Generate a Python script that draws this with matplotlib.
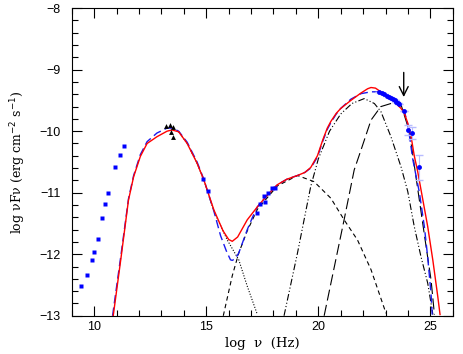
import numpy as np
import matplotlib
matplotlib.use("Agg")
import matplotlib.pyplot as plt
from matplotlib.ticker import MultipleLocator

# radio / optical / X-ray data (blue squares)
radio_x = [9.40, 9.67, 9.91, 10.01, 10.15, 10.36, 10.49, 10.61, 10.92, 11.13, 11.35]
radio_y = [-12.52, -12.33, -12.09, -11.96, -11.75, -11.41, -11.19, -11.00, -10.59, -10.39, -10.24]
opt_x = [14.85, 15.07]
opt_y = [-10.77, -10.98]
xray_x = [17.25, 17.39, 17.62, 17.59, 17.77, 17.95, 18.07]
xray_y = [-11.33, -11.18, -11.15, -11.06, -11.00, -10.93, -10.93]

# IR triangles
ir_x = [13.20, 13.40, 13.52, 13.44, 13.52]
ir_y = [-9.92, -9.90, -9.93, -10.02, -10.10]

# gamma-ray points
gam_x = [22.72, 22.83, 22.94, 23.05, 23.17, 23.25, 23.32, 23.40, 23.47, 23.55, 23.61, 23.84, 23.99, 24.17, 24.47]
gam_y = [-9.36, -9.38, -9.40, -9.42, -9.44, -9.46, -9.48, -9.50, -9.52, -9.54, -9.56, -9.67, -9.98, -10.03, -10.59]
gam_err = [0, 0, 0, 0, 0, 0, 0, 0, 0, 0, 0, 0, 0.08, 0.10, 0.20]

# total model (red)
red_x = [10.85, 11.2, 11.53, 11.76, 12.06, 12.36, 12.8, 13.25, 13.47, 13.77, 14.15, 14.59, 14.89, 15.34,
         15.75, 16.0, 16.16, 16.4, 16.83, 17.28, 17.7, 18.17, 18.6, 19.07, 19.4, 19.66, 19.96, 20.2, 20.4,
         20.56, 20.8, 21.0, 21.45, 21.9, 22.2, 22.35, 22.55, 22.79, 23.24, 23.69, 23.84, 23.99, 24.14, 24.28,
         24.43, 24.58, 24.88, 25.11, 25.33, 25.43]
red_y = [-13.0, -12.05, -11.12, -10.74, -10.41, -10.20, -10.09, -10.0, -9.98, -10.01, -10.20, -10.52, -10.79, -11.28,
         -11.62, -11.76, -11.79, -11.72, -11.44, -11.23, -11.05, -10.87, -10.78, -10.72, -10.67, -10.59, -10.40, -10.14, -9.95,
         -9.84, -9.71, -9.63, -9.50, -9.38, -9.31, -9.29, -9.30, -9.36, -9.47, -9.63, -9.71, -9.87, -10.09, -10.40,
         -10.65, -10.95, -11.55, -12.10, -12.69, -12.98]

# second model (blue dashed)
blue_x = [10.82, 11.2, 11.53, 11.76, 12.06, 12.36, 12.8, 13.25, 13.5, 13.77, 14.15, 14.59, 14.89, 15.34,
          15.64, 15.9, 16.08, 16.16, 16.3, 16.45, 16.83, 17.05, 17.28, 17.7, 18.17, 18.6, 19.07, 19.4, 19.66,
          19.96, 20.2, 20.4, 20.56, 20.8, 21.0, 21.45, 21.9, 22.35, 22.72, 23.17, 23.61, 23.84, 24.0, 24.21,
          24.51, 24.73, 24.88, 25.03, 25.08]
blue_y = [-13.0, -12.0, -11.10, -10.72, -10.38, -10.17, -10.03, -9.95, -9.95, -10.0, -10.18, -10.50, -10.78, -11.30,
          -11.70, -11.95, -12.09, -12.10, -12.07, -11.98, -11.60, -11.41, -11.23, -11.05, -10.87, -10.78, -10.72, -10.67, -10.60,
          -10.42, -10.16, -9.97, -9.86, -9.72, -9.63, -9.48, -9.39, -9.36, -9.36, -9.44, -9.56, -9.68, -9.90, -10.45,
          -11.00, -11.55, -12.05, -12.65, -12.98]

# components (black)
syn_x = [13.77, 14.15, 14.59, 14.89, 15.34, 15.94, 16.45, 16.83, 17.28]
syn_y = [-10.01, -10.20, -10.52, -10.79, -11.30, -11.77, -12.09, -12.52, -12.98]
ssc_x = [15.76, 16.16, 16.45, 16.83, 17.28, 18.17, 19.07, 19.81, 20.56, 21.15, 21.75, 22.35, 23.02]
ssc_y = [-13.0, -12.35, -11.98, -11.62, -11.27, -10.89, -10.72, -10.82, -11.09, -11.44, -11.77, -12.25, -12.96]
ec1_x = [18.47, 19.07, 19.66, 20.0, 20.5, 21.0, 21.5, 22.05, 22.5, 22.79, 23.24, 23.69, 23.99, 24.28, 24.58, 24.88, 25.11]
ec1_y = [-13.0, -11.98, -10.90, -10.45, -10.0, -9.72, -9.55, -9.47, -9.55, -9.68, -10.09, -10.58, -10.98, -11.55, -12.04, -12.47, -12.98]
ec2_x = [20.26, 21.15, 21.6, 21.9, 22.35, 22.79, 23.24, 23.69, 24.06, 24.3, 24.81, 25.03, 25.18]
ec2_y = [-13.0, -11.44, -10.63, -10.31, -9.82, -9.60, -9.55, -9.57, -10.0, -10.6, -11.88, -12.42, -12.98]

fig = plt.figure(figsize=(4.63, 3.54), dpi=100)
ax = fig.add_axes([0.155, 0.108, 0.823, 0.869])

ax.plot(syn_x, syn_y, color='black', lw=0.8, ls=(0, (1, 1.5)))
ax.plot(ssc_x, ssc_y, color='black', lw=0.8, ls=(0, (4, 3)))
ax.plot(ec1_x, ec1_y, color='black', lw=0.8, ls=(0, (6, 2, 1, 2, 1, 2)))
ax.plot(ec2_x, ec2_y, color='black', lw=0.8, ls=(0, (10, 4)))
ax.plot(blue_x, blue_y, color='#1a1aee', lw=1.0, ls=(0, (6, 3)))
ax.plot(red_x, red_y, color='red', lw=1.0)

ax.plot(radio_x, radio_y, 's', color='blue', ms=3.3, mec='none')
ax.plot(opt_x, opt_y, 's', color='blue', ms=3.3, mec='none')
ax.plot(xray_x, xray_y, 's', color='blue', ms=3.3, mec='none')
ax.plot(ir_x, ir_y, '^', color='black', ms=3.5, mec='none')
ax.errorbar(gam_x, gam_y, yerr=gam_err, fmt='o', color='blue', ms=3.5, mec='none',
            ecolor='#b8bcff', elinewidth=0.8, capsize=3)

ax.annotate('', xy=(23.81, -9.49), xytext=(23.81, -9.0),
            arrowprops=dict(arrowstyle='->', color='black', lw=1.0, mutation_scale=16))

ax.set_xlim(9, 26)
ax.set_ylim(-13, -8)
ax.xaxis.set_major_locator(MultipleLocator(5))
ax.xaxis.set_minor_locator(MultipleLocator(1))
ax.yaxis.set_major_locator(MultipleLocator(1))
ax.yaxis.set_minor_locator(MultipleLocator(0.2))
ax.tick_params(which='both', direction='in', top=True, right=True, labelsize=9, width=0.8)
ax.tick_params(which='major', length=7)
ax.tick_params(axis='y', pad=8)
ax.tick_params(which='minor', length=4)
for lab in ax.get_xticklabels() + ax.get_yticklabels():
    lab.set_fontfamily('Liberation Sans')
ax.set_xlabel(r'log  ν  (Hz)', fontfamily='DejaVu Serif', fontsize=9.5, labelpad=3)
ax.set_ylabel(r'log νFν (erg cm$^{-2}$ s$^{-1}$)', fontfamily='DejaVu Serif', fontsize=9, labelpad=8)

fig.savefig('out.png', dpi=100)
